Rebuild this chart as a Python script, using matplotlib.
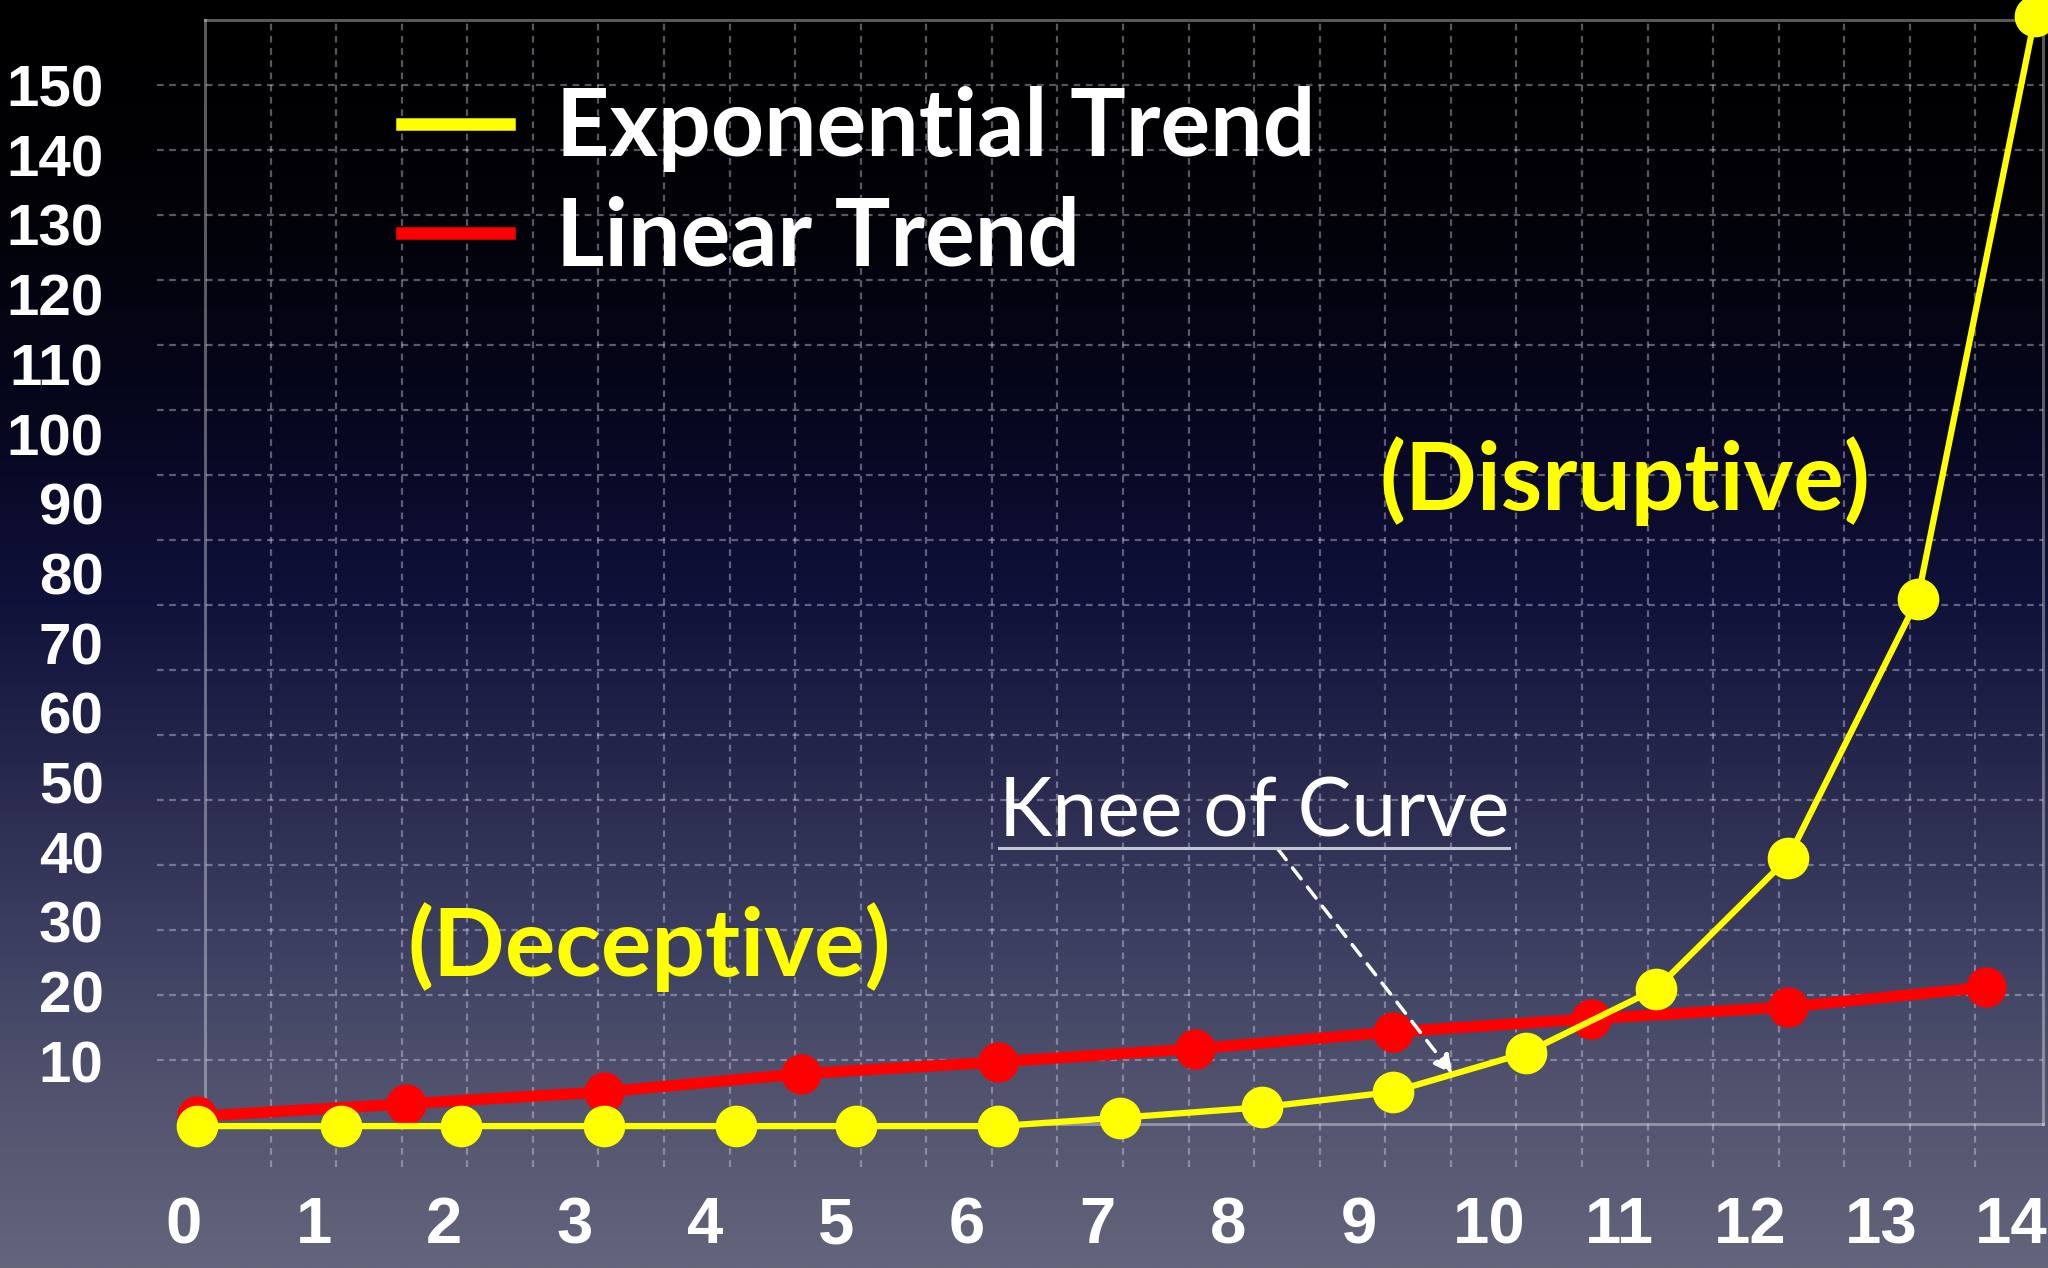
import numpy as np
import matplotlib
matplotlib.use("Agg")
import matplotlib.pyplot as plt
from matplotlib.colors import LinearSegmentedColormap
from matplotlib.lines import Line2D
from matplotlib.ticker import MultipleLocator
from matplotlib.transforms import IdentityTransform

# ---------------- data ----------------
x_ticks = list(range(0, 15))
x_tick_labels = [str(v) for v in x_ticks]
y_ticks = list(range(10, 160, 10))
y_tick_labels = [str(v) for v in y_ticks]

series_names = ["Exponential Trend", "Linear Trend"]

exp_x = [0.11, 1.21, 2.13, 3.22, 4.23, 5.15, 6.24, 7.17, 8.26, 9.26, 10.28, 11.28, 12.29, 13.28, 14.18]
exp_y = [0.7, 0.7, 0.7, 0.7, 0.7, 0.7, 0.7, 1.9, 3.4, 5.6, 11.2, 20.4, 39.2, 76.3, 160.0]

lin_x = [0.11, 1.71, 3.22, 4.73, 6.24, 7.75, 9.26, 10.78, 12.29, 13.80]
lin_y = [2.1, 3.9, 5.6, 8.2, 9.9, 11.8, 14.2, 16.1, 17.8, 20.6]

label_deceptive = "(Deceptive)"
label_disruptive = "(Disruptive)"
label_knee = "Knee of Curve"
deceptive_pos = (3.57, 26.4)
disruptive_pos = (11.04, 93.3)
knee_text_pos = (8.20, 45.5)
knee_arrow_from = (8.38, 40.5)
knee_arrow_to = (9.72, 8.2)

# ---------------- styling ----------------
plt.rcParams["font.family"] = ["Liberation Sans", "DejaVu Sans"]
plt.rcParams["font.weight"] = "bold"
plt.rcParams["xtick.labelsize"] = 47
plt.rcParams["ytick.labelsize"] = 42

YELLOW = "#ffff00"
RED = "#ff0000"
W, H = 2048, 1268

fig = plt.figure(figsize=(W / 100, H / 100), dpi=100)
fig.patch.set_facecolor("black")

# background gradient
bg = fig.add_axes([0, 0, 1, 1], zorder=-10)
stops = [(0.0, "#000000"), (0.16, "#020207"), (0.32, "#06061d"),
         (0.47, "#10113a"), (0.63, "#2b2c50"), (0.75, "#3e4062"),
         (0.87, "#52546f"), (1.0, "#63657c")]
cmap = LinearSegmentedColormap.from_list("bg", stops)
grad = np.linspace(0, 1, 600).reshape(-1, 1)
bg.imshow(grad, aspect="auto", cmap=cmap, interpolation="bilinear")
bg.set_axis_off()

# frame box of the slide (in data units) and axes view slightly wider on the left
frame_x = (0.168, 14.24)
xlim = (-0.02, 14.24)
ylim = (1.0, 159.4)
px_per_x = 130.6
left = 205 - (frame_x[0] - xlim[0]) * px_per_x
right, top, bottom = 2043, 20, 1124
ax = fig.add_axes([left / W, 1 - bottom / H, (right - left) / W, (bottom - top) / H])
ax.set_facecolor("none")

# frame lines
for sp in ax.spines.values():
    sp.set_edgecolor((1, 1, 1, 0.35))
    sp.set_linewidth(2.2)
ax.spines["left"].set_position(("data", frame_x[0]))
ax.spines["top"].set_bounds(*frame_x)
ax.spines["bottom"].set_bounds(*frame_x)

ax.set_xticks(x_ticks, x_tick_labels)
ax.set_yticks(y_ticks, y_tick_labels)
ax.set_xlim(*xlim)
ax.set_ylim(*ylim)
ax.tick_params(axis="x", length=0, pad=52, labelcolor="white", labelsize=47)
ax.tick_params(axis="y", length=0, pad=73, labelcolor="white", labelsize=42)

# decorative dashed grid (independent from tick labels, like the slide)
grid_kw = dict(color=(0.85, 0.85, 0.95, 0.40), lw=1.6, ls=(0, (3, 2.5)), zorder=1, clip_on=False)
grid_left_x = -0.2      # horizontal lines run a little past the frame on the left
grid_bottom_y = -5.2    # vertical lines run a little below the frame
xgrid = MultipleLocator(0.502, offset=frame_x[0]).tick_values(*frame_x)
for gx in xgrid:
    if frame_x[0] + 0.05 < gx < frame_x[1] - 0.05:
        ax.plot([gx, gx], [grid_bottom_y, ylim[1]], **grid_kw)
ygrid = MultipleLocator(9.33, offset=0.8).tick_values(*ylim)
for gy in ygrid:
    if ylim[0] + 0.5 < gy < ylim[1] - 0.5:
        ax.plot([grid_left_x, frame_x[1]], [gy, gy], **grid_kw)

# series
ax.plot(lin_x, lin_y, color=RED, lw=8, marker="o", ms=28, mec=RED, mfc=RED,
        zorder=4, clip_on=False)
ax.plot(exp_x, exp_y, color=YELLOW, lw=4.5, marker="o", ms=29, mec=YELLOW, mfc=YELLOW,
        zorder=5, clip_on=False)
ax.set_xlim(*xlim)
ax.set_ylim(*ylim)

# legend
handles = [Line2D([], [], color=YELLOW, lw=9), Line2D([], [], color=RED, lw=9)]
leg_x = (402 - left) / (right - left)
leg = ax.legend(handles, series_names, loc="upper left", bbox_to_anchor=(leg_x, 0.94),
                frameon=False, prop=dict(family="Lato", weight="bold", size=67),
                labelcolor="white", handlelength=1.15, handletextpad=0.5,
                labelspacing=0.25, borderpad=0, borderaxespad=0)

# annotations
txt_font = dict(family="Lato", weight="bold", size=68)
ax.text(*deceptive_pos, label_deceptive, ha="center", va="center", color=YELLOW, zorder=6, **txt_font)
ax.text(*disruptive_pos, label_disruptive, ha="center", va="center", color=YELLOW, zorder=6, **txt_font)
knee = ax.text(*knee_text_pos, label_knee, ha="center", va="center", color="white",
               family="Lato", weight="normal", size=58, zorder=6)
ax.annotate("", xy=knee_arrow_to, xytext=knee_arrow_from,
            arrowprops=dict(arrowstyle="-|>", color="white", lw=2.5, ls=(0, (4, 3)),
                            mutation_scale=28, shrinkA=0, shrinkB=0), zorder=6)

# underline under "Knee of Curve", measured from the rendered text
fig.canvas.draw()
bb = knee.get_window_extent()
fig.add_artist(Line2D([bb.x0, bb.x1], [bb.y0 + 3, bb.y0 + 3], transform=IdentityTransform(),
                      color="#c4c6d4", lw=2.2))

fig.savefig("out.png", dpi=100, facecolor=fig.get_facecolor())
